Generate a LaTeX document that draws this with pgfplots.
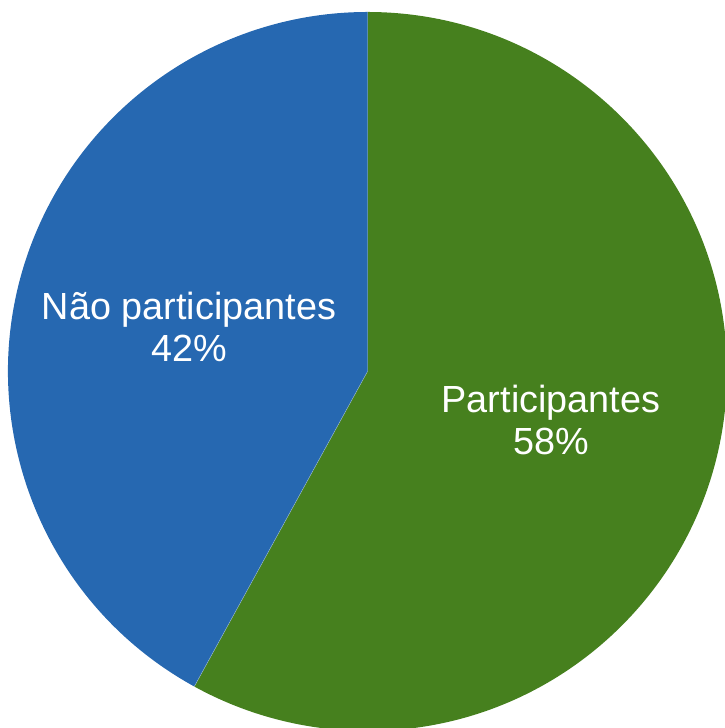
\documentclass[border=0pt]{standalone}
\usepackage{pgfplots}
\pgfplotsset{compat=1.18}
\usepackage{pgfplotstable}
\usepackage{fontspec}
\setmainfont{Liberation Sans}
\definecolor{pgreen}{HTML}{46801E}
\definecolor{pblue}{HTML}{2668B1}
\pgfplotstableread{
label value
Participantes 58
NaoParticipantes 42
}\piedata
\begin{document}
\begin{tikzpicture}
\pgfplotstablegetelem{0}{value}\of\piedata\let\va\pgfplotsretval
\pgfplotstablegetelem{1}{value}\of\piedata\let\vb\pgfplotsretval
\pgfmathsetmacro\angA{90-3.6*\va}
\pgfmathsetmacro\angB{\angA-3.6*\vb}
\begin{axis}[
  x=1bp, y=1bp, xmin=0, xmax=725, ymin=0, ymax=728,
  scale only axis, hide axis, clip=true,
]
\fill[pgreen] (axis cs:367.5,356.5) -- ++(90:359.5bp) arc[start angle=90, end angle=\angA, radius=359.5bp] -- cycle;
\fill[pblue] (axis cs:367.5,356.5) -- ++(\angA:359.5bp) arc[start angle=\angA, end angle=\angB, radius=359.5bp] -- cycle;
\draw[white, opacity=0.4, line width=0.5bp] (axis cs:367.5,356.5) -- ++(\angA:359.5bp);
\node[white, align=center, font=\fontsize{37.8bp}{42bp}\selectfont] at (axis cs:551,308) {Participantes\\\va\%};
\node[white, align=center, font=\fontsize{37.8bp}{42bp}\selectfont] at (axis cs:189,401) {Não participantes\\\vb\%};
\end{axis}
\path (current axis.south west) rectangle (current axis.north east);
\end{tikzpicture}
\end{document}
